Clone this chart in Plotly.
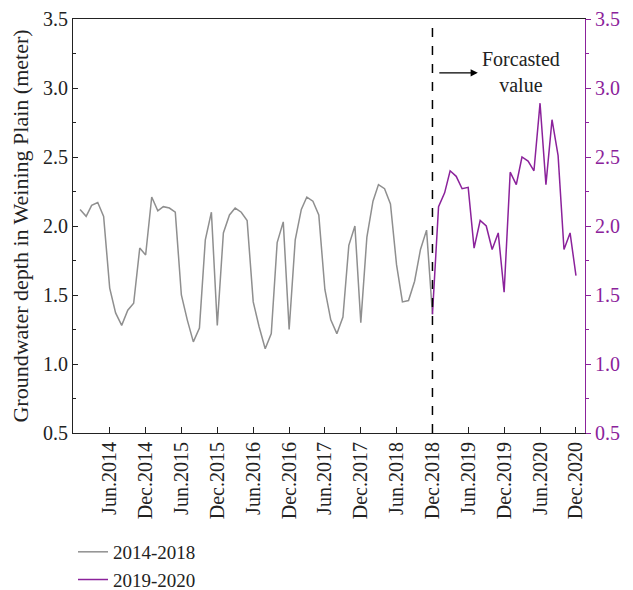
import plotly.graph_objects as go
import pandas as pd

# Data (monthly groundwater depth, m)
hist_start = "2014-01-01"
hist_values = [
    2.12, 2.07, 2.15, 2.17, 2.07, 1.55, 1.37, 1.28, 1.39, 1.44, 1.84, 1.79,   # 2014
    2.21, 2.11, 2.14, 2.13, 2.10, 1.50, 1.32, 1.16, 1.26, 1.90, 2.10, 1.28,   # 2015
    1.95, 2.08, 2.13, 2.10, 2.04, 1.45, 1.27, 1.11, 1.22, 1.88, 2.03, 1.25,   # 2016
    1.90, 2.12, 2.21, 2.18, 2.08, 1.54, 1.32, 1.22, 1.34, 1.86, 2.00, 1.30,   # 2017
    1.92, 2.18, 2.30, 2.27, 2.16, 1.72, 1.45, 1.46, 1.60, 1.83, 1.97, 1.36,   # 2018
]
fc_start = "2018-12-01"
fc_values = [
    1.36,
    2.14, 2.24, 2.40, 2.36, 2.27, 2.28, 1.84, 2.04, 2.00, 1.83, 1.95, 1.52,   # 2019
    2.39, 2.30, 2.50, 2.47, 2.40, 2.89, 2.30, 2.77, 2.51, 1.83, 1.95, 1.64,   # 2020
]
hist_dates = pd.date_range(hist_start, periods=len(hist_values), freq="MS")
fc_dates = pd.date_range(fc_start, periods=len(fc_values), freq="MS")

tick_dates = pd.date_range("2014-06-01", "2020-12-01", freq="6MS")
tick_labels = [("Jun." if d.month == 6 else "Dec.") + str(d.year) for d in tick_dates]

series_names = ["2014-2018", "2019-2020"]
GRAY = "#8f8f8f"
PURPLE = "#8b229b"
FONT = "Liberation Serif"

fig = go.Figure()
fig.add_trace(go.Scatter(x=hist_dates, y=hist_values, mode="lines", name=series_names[0],
                         line=dict(color=GRAY, width=1.5), yaxis="y"))
fig.add_trace(go.Scatter(x=fc_dates, y=fc_values, mode="lines", name=series_names[1],
                         line=dict(color=PURPLE, width=1.5), yaxis="y2"))

# Forecast divider
fig.add_shape(type="line", xref="x", yref="paper", x0=fc_start, x1=fc_start, y0=0, y1=1,
              line=dict(color="black", width=1.5, dash="dash"))

fig.add_annotation(xref="x", yref="paper", x="2019-07-20", y=0.87, ax=-40, ay=0,
                   text="", showarrow=True, arrowhead=2, arrowsize=1.2, arrowwidth=1.2,
                   arrowcolor="black")
fig.add_annotation(xref="x", yref="paper", x="2020-02-25", y=0.873, text="Forcasted<br>value",
                   showarrow=False, font=dict(family=FONT, size=20, color="#222"),
                   xanchor="center", yanchor="middle")

# page body has an 8px margin: figure is sized/offset so the plot lands where the reference has it
fig.update_layout(
    width=625, height=582,
    margin=dict(l=65, r=48, t=11, b=157),
    paper_bgcolor="white", plot_bgcolor="white",
    font=dict(family=FONT, size=19, color="#222"),
    xaxis=dict(range=["2013-11-26", "2021-01-16"], tickvals=tick_dates, ticktext=tick_labels,
               tickangle=-90, ticks="inside", ticklen=6, tickcolor="#222", automargin=False,
               tickfont=dict(size=20),
               showline=True, linecolor="#222", linewidth=1.2, mirror=True,
               showgrid=False, zeroline=False),
    yaxis=dict(range=[0.5, 3.5], dtick=0.5, tickformat=".1f", ticks="inside", ticklen=5,
               tickcolor="#222", showline=True, linecolor="#222", linewidth=1.2,
               automargin=False, tickfont=dict(size=20),
               minor=dict(dtick=0.25, ticks="inside", ticklen=3, tickcolor="#222"),
               showgrid=False, zeroline=False,
               title=dict(text="Groundwater depth in Weining Plain (meter)", standoff=14,
                          font=dict(size=22))),
    yaxis2=dict(range=[0.5, 3.5], dtick=0.5, tickformat=".1f", overlaying="y", side="right",
                ticks="outside", ticklen=5, tickcolor=PURPLE, showline=True, automargin=False,
                linecolor=PURPLE, linewidth=1.2, tickfont=dict(color=PURPLE, size=20),
                minor=dict(dtick=0.25, ticks="outside", ticklen=3, tickcolor=PURPLE),
                showgrid=False, zeroline=False),
    legend=dict(x=0.0, xanchor="left", yref="container", y=0.098, yanchor="top",
                bgcolor="rgba(0,0,0,0)", font=dict(size=19), tracegroupgap=0),
    showlegend=True,
)

fig.write_html("out.html")
